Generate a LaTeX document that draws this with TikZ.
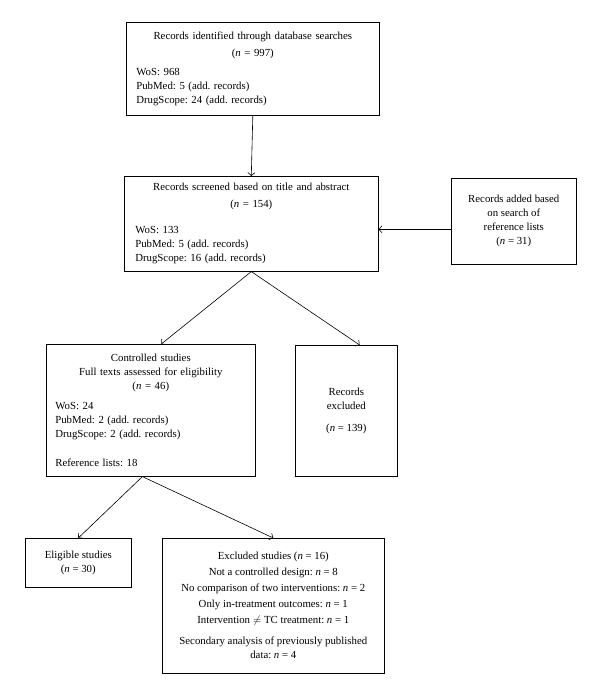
\documentclass[tikz,border=0pt]{standalone}
\usepackage{fontspec}
\setmainfont{Liberation Serif}
\usetikzlibrary{calc,arrows.meta}
\frenchspacing

\begin{document}
\begin{tikzpicture}[x=1pt,y=-1pt,font=\fontsize{10.8}{14}\selectfont,
  box/.style={draw, line width=0.6pt, anchor=north west, inner sep=0pt},
  link/.style={-{Straight Barb[length=3pt,width=7pt]}, line width=0.6pt}]
\useasboundingbox (0,0) rectangle (600,697);

% search and screening
\node[box, minimum width=253, minimum height=93, text width=233] (ident) at (126,22)
  {{\centering Records identified through database searches\\[3pt] (\textit{n} = 997)\par}\vspace{5pt}
   WoS: 968\\ PubMed: 5 (add. records)\\ DrugScope: 24 (add. records)\par\vspace{4pt}};
\node[box, minimum width=254, minimum height=95, text width=232] (screen) at (124,176)
  {{\centering Records screened based on title and abstract\\[3pt] (\textit{n} = 154)\par}\vspace{12pt}
   WoS: 133\\ PubMed: 5 (add. records)\\ DrugScope: 16 (add. records)};
\node[box, minimum width=125, minimum height=86, align=center] (added) at (451,178)
  {Records added based\\ on search of\\ reference lists\\ (\textit{n} = 31)};

% eligibility
\node[box, minimum width=209, minimum height=132, text width=191] (full) at (46,344)
  {{\centering Controlled studies\\ Full texts assessed for eligibility\\ (\textit{n} = 46)\par}\vspace{6pt}
   WoS: 24\\ PubMed: 2 (add. records)\\ DrugScope: 2 (add. records)\\[15pt] Reference lists: 18};
\node[box, minimum width=102, minimum height=131, align=center] (recex) at (295,345)
  {Records\\ excluded\\[8pt] (\textit{n} = 139)};

% included / excluded
\node[box, minimum width=106, minimum height=49, align=center] (elig) at (25,538)
  {Eligible studies\\ (\textit{n} = 30)};
\node[box, minimum width=222, minimum height=135, align=center] (studex) at (162,538)
  {Excluded studies (\textit{n} = 16)\\[2pt] Not a controlled design: \textit{n} = 8\\[2pt]
   No comparison of two interventions: \textit{n} = 2\\[2pt] Only in-treatment outcomes: \textit{n} = 1\\[2pt]
   Intervention $\neq$ TC treatment: \textit{n} = 1\\[7pt] Secondary analysis of previously published\\
   data: \textit{n} = 4};

\draw[link] (ident.south) -- (screen.north);
\draw[link] ([yshift=-8pt]added.west) -- ([yshift=-8pt]added.west -| screen.east);
\draw[link] (screen.south) -- ($(full.north west)!0.55!(full.north east)$);
\draw[link] (screen.south) -- ($(recex.north west)!0.63!(recex.north east)$);
\draw[link] ($(full.south west)!0.46!(full.south east)$) -- (elig.north);
\draw[link] ($(full.south west)!0.46!(full.south east)$) -- (studex.north);
\end{tikzpicture}
\end{document}
